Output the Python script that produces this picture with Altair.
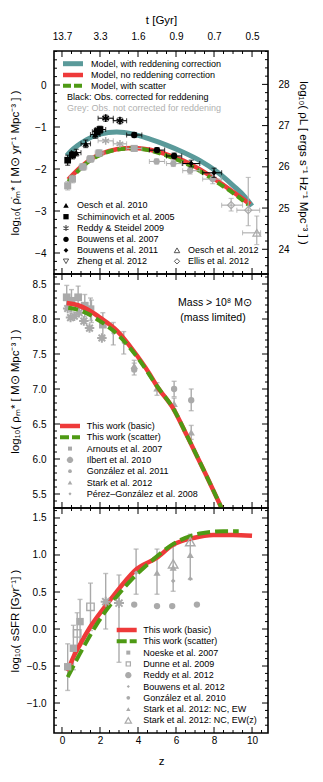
import altair as alt
import pandas as pd

FONT = "Liberation Sans"
GREY = "#aaaaaa"
TEAL = "#5a9a9a"
RED = "#ee3a3a"
GREEN = "#4e9a14"

# ---------------- axis labels ----------------
z_label_values = [0, 2, 4, 6, 8, 10]
t_gyr_labels = ["13.7", "3.3", "1.6", "0.9", "0.7", "0.5"]
p1_left_labels = [-4, -3, -2, -1, 0]
p1_right_labels = [24, 25, 26, 27, 28]
p2_labels = [5.5, 6.0, 6.5, 7.0, 7.5, 8.0, 8.5]
p3_labels = [-1.0, -0.5, 0.0, 0.5, 1.0, 1.5]

# ---------------- panel 1: SFR density ----------------
p1_teal_z = [0.25, 0.5, 0.77, 1.3, 2.0, 2.88, 3.75, 4.63, 5.5, 6.38, 7.26, 8.14, 9.02, 9.6, 10.0]
p1_teal_v = [-1.68, -1.56, -1.46, -1.30, -1.17, -1.12, -1.17, -1.29, -1.43, -1.60, -1.80, -2.06, -2.40, -2.65, -2.88]
p1_red_z = [0.33, 0.95, 1.47, 2.0, 2.88, 3.75, 4.63, 5.5, 6.38, 7.26, 8.14, 9.02, 9.9]
p1_red_v = [-2.25, -1.97, -1.78, -1.65, -1.53, -1.50, -1.54, -1.65, -1.80, -2.01, -2.27, -2.55, -2.84]
p1_green_z = [0.33, 0.95, 1.47, 2.0, 2.88, 3.75, 4.63, 5.5, 6.38, 7.26, 8.14, 9.02, 9.8]
p1_green_v = [-2.30, -2.00, -1.80, -1.67, -1.54, -1.51, -1.56, -1.68, -1.84, -2.05, -2.31, -2.58, -2.85]

# black: corrected for reddening
oesch10_z = [0.75, 1.25, 1.75]
oesch10_v = [-1.61, -1.40, -1.18]
oesch10_vlo = [-1.69, -1.49, -1.27]
oesch10_vhi = [-1.53, -1.31, -1.09]
oesch10_zlo = [0.5, 1.0, 1.5]
oesch10_zhi = [1.0, 1.5, 2.0]

schim_z = [0.3, 0.55, 1.85, 2.0]
schim_v = [-1.79, -1.67, -1.11, -1.06]
schim_vlo = [-1.91, -1.76, -1.19, -1.14]
schim_vhi = [-1.67, -1.58, -1.03, -0.98]
schim_zlo = [0.2, 0.4, 1.6, 1.75]
schim_zhi = [0.4, 0.7, 2.1, 2.3]

reddy09_z = [2.3, 3.05]
reddy09_v = [-0.79, -0.85]
reddy09_vlo = [-0.86, -0.92]
reddy09_vhi = [-0.72, -0.78]
reddy09_zlo = [1.9, 2.7]
reddy09_zhi = [2.7, 3.4]

bouw07_z = [3.8, 5.0, 5.9]
bouw07_v = [-1.19, -1.55, -1.69]
bouw07_vlo = [-1.25, -1.61, -1.76]
bouw07_vhi = [-1.13, -1.49, -1.62]
bouw07_zlo = [3.4, 4.6, 5.5]
bouw07_zhi = [4.2, 5.4, 6.3]

bouw11_z = [6.8, 8.0]
bouw11_v = [-1.87, -2.09]
bouw11_vlo = [-1.95, -2.20]
bouw11_vhi = [-1.79, -1.98]
bouw11_zlo = [6.35, 7.4]
bouw11_zhi = [7.25, 8.4]

# grey: not corrected for reddening
g_sq_z = [0.3, 0.55, 1.1, 1.5, 1.95, 3.8]
g_sq_v = [-2.40, -2.24, -1.95, -1.76, -1.62, -1.51]
g_sq_vlo = [-2.50, -2.33, -2.03, -1.84, -1.70, -1.57]
g_sq_vhi = [-2.30, -2.15, -1.87, -1.68, -1.54, -1.45]
g_sq_zlo = [0.2, 0.4, 0.9, 1.3, 1.75, 3.4]
g_sq_zhi = [0.4, 0.7, 1.3, 1.7, 2.2, 4.2]

g_ast_z = [2.3, 3.05]
g_ast_v = [-1.33, -1.40]
g_ast_zlo = [1.9, 2.7]
g_ast_zhi = [2.7, 3.4]

g_circ_z = [4.98, 5.86, 6.74, 7.93]
g_circ_v = [-1.82, -1.87, -2.04, -2.24]
g_circ_vlo = [-1.88, -1.94, -2.12, -2.35]
g_circ_vhi = [-1.76, -1.80, -1.96, -2.13]
g_circ_zlo = [4.6, 5.5, 6.35, 7.4]
g_circ_zhi = [5.4, 6.3, 7.25, 8.4]

ellis_z = [8.9, 9.8]
ellis_v = [-2.86, -2.98]
ellis_vlo = [-3.00, -3.35]
ellis_vhi = [-2.70, -2.20]
ellis_zlo = [8.4, 9.2]
ellis_zhi = [9.5, 10.4]

oesch12_z = [10.25]
oesch12_v = [-3.52]
oesch12_vlo = [-3.80]
oesch12_vhi = [-3.12]
oesch12_zlo = [9.5]
oesch12_zhi = [10.45]

# ---------------- panel 2: stellar mass density ----------------
p2_red_z = [0.25, 0.8, 1.5, 2.0, 2.9, 3.75, 4.6, 5.0, 5.9, 6.6, 7.6, 8.5]
p2_red_v = [8.23, 8.20, 8.11, 8.02, 7.83, 7.55, 7.22, 7.04, 6.70, 6.32, 5.76, 5.24]
p2_green_z = [0.33, 1.0, 2.0, 3.0, 4.0, 5.0, 5.9, 6.6, 7.6, 8.5]
p2_green_v = [8.16, 8.12, 7.97, 7.76, 7.44, 7.04, 6.70, 6.32, 5.76, 5.24]

arnouts_z = [0.25, 0.5, 0.85, 1.2, 1.5, 2.15]
arnouts_v = [8.31, 8.26, 8.31, 8.19, 8.14, 7.92]
arnouts_lo = [8.14, 8.10, 8.15, 8.03, 7.98, 7.75]
arnouts_hi = [8.48, 8.42, 8.47, 8.35, 8.30, 8.09]

ilbert_z = [0.3, 0.45, 0.65, 0.9, 1.15, 1.45, 2.1]
ilbert_v = [8.15, 8.02, 8.04, 8.09, 7.97, 7.87, 7.73]

gonz11_z = [3.8, 5.9, 6.8]
gonz11_v = [7.28, 7.00, 6.84]
gonz11_lo = [7.20, 6.89, 6.69]
gonz11_hi = [7.37, 7.11, 7.00]

stark12_z = [3.8, 5.0, 5.9, 6.8]
stark12_v = [7.33, 7.01, 6.79, 6.38]
stark12_lo = [7.25, 6.91, 6.71, 6.28]
stark12_hi = [7.41, 7.09, 6.87, 6.48]

perez08_z = [1.55, 2.7, 3.25]
perez08_v = [8.10, 7.80, 7.66]
perez08_lo = [7.95, 7.63, 7.50]
perez08_hi = [8.27, 7.95, 7.82]

# ---------------- panel 3: specific SFR ----------------
p3_red_z = [0.3, 0.6, 0.95, 1.47, 2.35, 3.05, 3.93, 4.98, 5.86, 6.91, 7.96, 9.0, 10.0]
p3_red_v = [-0.57, -0.38, -0.21, 0.02, 0.33, 0.56, 0.81, 0.96, 1.14, 1.23, 1.27, 1.27, 1.26]
p3_green_z = [0.3, 0.6, 1.12, 1.82, 2.7, 3.75, 4.8, 5.86, 7.26, 8.5, 9.3]
p3_green_v = [-0.65, -0.50, -0.25, 0.06, 0.38, 0.69, 0.94, 1.15, 1.29, 1.32, 1.32]

noeske_z = [0.3, 0.6, 0.95]
noeske_v = [-0.51, -0.26, 0.10]
noeske_lo = [-0.83, -0.55, -0.20]
noeske_hi = [-0.20, 0.05, 0.40]

dunne_z = [0.8, 1.5]
dunne_v = [-0.06, 0.30]
dunne_lo = [-0.30, -0.02]
dunne_hi = [0.22, 0.62]

reddy12_z = [2.3, 3.0]
reddy12_v = [0.37, 0.35]
reddy12_lo = [0.00, -0.45]
reddy12_hi = [0.75, 0.73]

bouw12_z = [3.9, 5.85, 6.75]
bouw12_v = [0.76, 0.65, 0.68]
bouw12_bar_z = [3.9]
bouw12_lo = [0.47]
bouw12_hi = [1.08]

gonz10_z = [3.8, 5.0, 5.8, 7.1]
gonz10_v = [0.33, 0.31, 0.31, 0.33]

starkEW_z = [5.0, 5.85, 6.75]
starkEW_v = [0.76, 0.83, 1.00]
starkEW_lo = [0.47, 0.51, 0.67]
starkEW_hi = [1.08, 1.12, 1.28]

starkEWz_z = [5.85, 6.75]
starkEWz_v = [0.88, 1.18]

# ---------------- geometry / scales ----------------
W = 214
H1, H2, H3 = 223, 234, 225
XS = alt.Scale(domain=[-0.42, 10.84], nice=False, zero=False)
YS1 = alt.Scale(domain=[-4.5, 0.81], nice=False, zero=False)
YS1R = alt.Scale(domain=[23.4, 28.81], nice=False, zero=False)
YS2 = alt.Scale(domain=[5.3, 8.643], nice=False, zero=False)
YS3 = alt.Scale(domain=[-1.405, 1.635], nice=False, zero=False)

ASTER = "M0,-1L0,1M-0.87,-0.5L0.87,0.5M-0.87,0.5L0.87,-0.5"
STAR8 = "M0,-1L0,1M-1,0L1,0M-0.7,-0.7L0.7,0.7M-0.7,0.7L0.7,-0.7"

base_axis = dict(ticks=False, tickSize=0, domain=False, grid=False)
label_expr = "".join(f"datum.value == {v} ? '{l}' : " for v, l in zip(z_label_values, t_gyr_labels)) + "''"

# current panel axes (every layer of a panel carries the same axis spec)
AX = {"x": None, "y": None}


def X(field):
    return alt.X(f"{field}:Q", scale=XS, axis=AX["x"])


def Y(field, ys):
    return alt.Y(f"{field}:Q", scale=ys, axis=AX["y"])


def curve(z, v, ys, color, sw, dash=None):
    kw = dict(color=color, strokeWidth=sw, interpolate="monotone", clip=True)
    if dash:
        kw["strokeDash"] = dash
    return alt.Chart(pd.DataFrame({"z": z, "v": v})).mark_line(**kw).encode(x=X("z"), y=Y("v", ys))


def points(z, v, ys, shape, size, color, filled=True, sw=1.0):
    return alt.Chart(pd.DataFrame({"z": z, "v": v})).mark_point(
        shape=shape, size=size, filled=filled, color=color, strokeWidth=sw,
        opacity=1, clip=True).encode(x=X("z"), y=Y("v", ys))


def vbars(z, lo, hi, ys, color, cap=5, sw=1.1):
    base = alt.Chart(pd.DataFrame({"z": z, "lo": lo, "hi": hi}))
    return [
        base.mark_rule(color=color, strokeWidth=sw, clip=True).encode(x=X("z"), y=Y("lo", ys), y2="hi:Q"),
        base.mark_tick(orient="horizontal", color=color, size=cap, thickness=sw, clip=True).encode(
            x=X("z"), y=Y("lo", ys)),
        base.mark_tick(orient="horizontal", color=color, size=cap, thickness=sw, clip=True).encode(
            x=X("z"), y=Y("hi", ys)),
    ]


def hbars(zlo, zhi, v, ys, color, cap=5, sw=1.1):
    base = alt.Chart(pd.DataFrame({"zlo": zlo, "zhi": zhi, "v": v}))
    return [
        base.mark_rule(color=color, strokeWidth=sw, clip=True).encode(x=X("zlo"), x2="zhi:Q", y=Y("v", ys)),
        base.mark_tick(orient="vertical", color=color, size=cap, thickness=sw, clip=True).encode(
            x=X("zlo"), y=Y("v", ys)),
        base.mark_tick(orient="vertical", color=color, size=cap, thickness=sw, clip=True).encode(
            x=X("zhi"), y=Y("v", ys)),
    ]


def yticks(vals, ys, length, right=False):
    if right:
        xe = dict(x=alt.value(W), x2=alt.value(W - length))
    else:
        xe = dict(x=alt.value(0), x2=alt.value(length))
    return alt.Chart(pd.DataFrame({"v": vals})).mark_rule(color="black", strokeWidth=1).encode(
        y=Y("v", ys), **xe)


def xticks(vals, H, length, bottom=False):
    if bottom:
        ye = dict(y=alt.value(H), y2=alt.value(H - length))
    else:
        ye = dict(y=alt.value(0), y2=alt.value(length))
    return alt.Chart(pd.DataFrame({"z": vals})).mark_rule(color="black", strokeWidth=1).encode(
        x=X("z"), **ye)


def txt(s, x, y, size=9, color="black", align="left"):
    return alt.Chart(pd.DataFrame({"t": [s]})).mark_text(
        align=align, baseline="middle", fontSize=size, font=FONT, color=color).encode(
        x=alt.value(x), y=alt.value(y), text="t:N")


def sym(x, y, shape, size, color, filled=True, sw=1.0):
    return alt.Chart(pd.DataFrame({"a": [0]})).mark_point(
        shape=shape, size=size, filled=filled, color=color, strokeWidth=sw, opacity=1).encode(
        x=alt.value(x), y=alt.value(y))


def legline(x1, x2, y, color, sw=4, dash=None):
    kw = dict(color=color, strokeWidth=sw)
    if dash:
        kw["strokeDash"] = dash
    return alt.Chart(pd.DataFrame({"a": [0]})).mark_rule(**kw).encode(
        x=alt.value(x1), x2=alt.value(x2), y=alt.value(y))


def steps(a, b, step, skip):
    out = []
    n = int(round((b - a) / step))
    for i in range(n + 1):
        v = round(a + i * step, 3)
        if all(abs(v - s) > 1e-6 for s in skip):
            out.append(v)
    return out


x_minor = steps(0.0, 10.5, 0.5, z_label_values)

# ================= panel 1 =================
AX["x"] = alt.Axis(orient="top", values=z_label_values, labelExpr=label_expr, title="t  [Gyr]",
                   labelPadding=10, titlePadding=6, **base_axis)
AX["y"] = alt.Axis(values=p1_left_labels, format="d", title="log₁₀( ρ̇ₘ* [ M⊙ yr⁻¹ Mpc⁻³ ] )",
                   titleX=-34, labelPadding=8, **base_axis)

p1_layers = [
    yticks(p1_left_labels, YS1, 6),
    yticks(steps(-4.4, 0.8, 0.2, p1_left_labels), YS1, 3),
    xticks(z_label_values, H1, 6),
    xticks(x_minor, H1, 3),
    xticks(z_label_values, H1, 6, bottom=True),
    xticks(x_minor, H1, 3, bottom=True),
    curve(p1_teal_z, p1_teal_v, YS1, TEAL, 5),
    curve(p1_red_z, p1_red_v, YS1, RED, 4.5),
    curve(p1_green_z, p1_green_v, YS1, GREEN, 4, dash=[8, 4]),
]
p1_layers += vbars(g_sq_z, g_sq_vlo, g_sq_vhi, YS1, GREY)
p1_layers += hbars(g_sq_zlo, g_sq_zhi, g_sq_v, YS1, GREY)
p1_layers += hbars(g_ast_zlo, g_ast_zhi, g_ast_v, YS1, GREY)
p1_layers += vbars(g_circ_z, g_circ_vlo, g_circ_vhi, YS1, GREY)
p1_layers += hbars(g_circ_zlo, g_circ_zhi, g_circ_v, YS1, GREY)
p1_layers += vbars(ellis_z, ellis_vlo, ellis_vhi, YS1, GREY)
p1_layers += hbars(ellis_zlo, ellis_zhi, ellis_v, YS1, GREY)
p1_layers += vbars(oesch12_z, oesch12_vlo, oesch12_vhi, YS1, GREY)
p1_layers += hbars(oesch12_zlo, oesch12_zhi, oesch12_v, YS1, GREY)
p1_layers += [
    points(g_sq_z, g_sq_v, YS1, "square", 50, GREY),
    points(g_ast_z, g_ast_v, YS1, ASTER, 60, GREY, filled=False, sw=1.5),
    points(g_circ_z, g_circ_v, YS1, "circle", 40, GREY),
    points(ellis_z, ellis_v, YS1, "diamond", 50, GREY, filled=False, sw=1.2),
    points(oesch12_z, oesch12_v, YS1, "triangle-up", 60, GREY, filled=False, sw=1.2),
]
for zz, vv, lo, hi, zl, zh in [
    (oesch10_z, oesch10_v, oesch10_vlo, oesch10_vhi, oesch10_zlo, oesch10_zhi),
    (schim_z, schim_v, schim_vlo, schim_vhi, schim_zlo, schim_zhi),
    (reddy09_z, reddy09_v, reddy09_vlo, reddy09_vhi, reddy09_zlo, reddy09_zhi),
    (bouw07_z, bouw07_v, bouw07_vlo, bouw07_vhi, bouw07_zlo, bouw07_zhi),
    (bouw11_z, bouw11_v, bouw11_vlo, bouw11_vhi, bouw11_zlo, bouw11_zhi),
]:
    p1_layers += vbars(zz, lo, hi, YS1, "black")
    p1_layers += hbars(zl, zh, vv, YS1, "black")
p1_layers += [
    points(oesch10_z, oesch10_v, YS1, "triangle-up", 45, "black"),
    points(schim_z, schim_v, YS1, "square", 45, "black"),
    points(reddy09_z, reddy09_v, YS1, ASTER, 60, "black", filled=False, sw=1.5),
    points(bouw07_z, bouw07_v, YS1, "circle", 40, "black"),
    points(bouw11_z, bouw11_v, YS1, "diamond", 30, "black"),
]
p1_layers += [
    legline(9, 29, 12.7, TEAL, sw=5), txt("Model, with reddening correction", 37, 12.7),
    legline(9, 29, 24, RED, sw=4.5), txt("Model, no reddening correction", 37, 24),
    legline(9, 29, 34.7, GREEN, sw=4, dash=[8, 3]), txt("Model, with scatter", 37, 34.7),
    txt("Black: Obs. corrected for reddening", 13, 45.7),
    txt("Grey: Obs. not corrected for reddening", 13, 56.7, color="#b0b0b0"),
]
leg1 = [
    ("Oesch et al. 2010", "triangle-up", 30, True, "black", 1.0),
    ("Schiminovich et al. 2005", "square", 28, True, "black", 1.0),
    ("Reddy & Steidel 2009", ASTER, 36, False, "#555555", 1.2),
    ("Bouwens et al. 2007", "circle", 28, True, "black", 1.0),
    ("Bouwens et al. 2011", "diamond", 22, True, "black", 1.0),
    ("Zheng et al. 2012", "triangle-down", 28, False, "#444444", 0.9),
]
rows1 = [154.3, 165.7, 177.0, 188.3, 199.3, 210.3]
for (lab, shp, sz, fl, col, sw), yy in zip(leg1, rows1):
    p1_layers += [sym(12, yy, shp, sz, col, filled=fl, sw=sw), txt(lab, 23, yy)]
leg1b = [
    ("Oesch et al. 2012", "triangle-up", 30, False, "#444444", 0.9),
    ("Ellis et al. 2012", "diamond", 28, False, "#444444", 0.9),
]
for (lab, shp, sz, fl, col, sw), yy in zip(leg1b, rows1[4:]):
    p1_layers += [sym(123, yy, shp, sz, col, filled=fl, sw=sw), txt(lab, 134, yy)]
main1 = alt.layer(*p1_layers)

AX["y"] = alt.Axis(orient="right", values=p1_right_labels, format="d",
                   title="log₁₀( ρL [ ergs s⁻¹ Hz⁻¹ Mpc⁻³ ] )", labelPadding=10, titlePadding=8, **base_axis)
right1 = alt.layer(
    yticks(p1_right_labels, YS1R, 6, right=True),
    yticks(steps(23.6, 28.8, 0.2, p1_right_labels), YS1R, 3, right=True),
)
panel1 = alt.layer(main1, right1).resolve_scale(y="independent").properties(width=W, height=H1)

# ================= panel 2 =================
AX["x"] = None
AX["y"] = alt.Axis(values=p2_labels, format=".1f", title="log₁₀( ρₘ* [ M⊙ Mpc⁻³ ] )",
                   titleX=-34, labelPadding=8, **base_axis)
p2_layers = [
    yticks(p2_labels, YS2, 6),
    yticks(steps(5.4, 8.6, 0.1, p2_labels), YS2, 3),
    yticks(p2_labels, YS2, 6, right=True),
    yticks(steps(5.4, 8.6, 0.1, p2_labels), YS2, 3, right=True),
    xticks(z_label_values, H2, 6),
    xticks(x_minor, H2, 3),
    xticks(z_label_values, H2, 6, bottom=True),
    xticks(x_minor, H2, 3, bottom=True),
]
p2_layers += vbars(arnouts_z, arnouts_lo, arnouts_hi, YS2, GREY, sw=1.4)
p2_layers += vbars(gonz11_z, gonz11_lo, gonz11_hi, YS2, GREY, sw=1.4)
p2_layers += vbars(stark12_z, stark12_lo, stark12_hi, YS2, GREY, sw=1.4)
p2_layers += vbars(perez08_z, perez08_lo, perez08_hi, YS2, GREY, sw=1.4)
p2_layers += [
    points(ilbert_z, ilbert_v, YS2, STAR8, 90, GREY, filled=False, sw=2),
    points(arnouts_z, arnouts_v, YS2, "square", 60, GREY),
    points(gonz11_z, gonz11_v, YS2, "circle", 40, GREY),
    points(stark12_z, stark12_v, YS2, "triangle-up", 55, GREY),
    points(perez08_z, perez08_v, YS2, "diamond", 20, GREY),
    curve(p2_red_z, p2_red_v, YS2, RED, 4.5),
    curve(p2_green_z, p2_green_v, YS2, GREEN, 4, dash=[10, 5]),
]
rows2 = [152.0, 163.3, 174.6, 185.9, 197.2, 208.5, 219.8]
p2_layers += [
    legline(6, 26, rows2[0], RED, sw=4.5), txt("This work (basic)", 32.7, rows2[0]),
    legline(6, 26, rows2[1], GREEN, sw=4, dash=[9, 3]), txt("This work (scatter)", 32.7, rows2[1]),
]
leg2 = [
    ("Arnouts et al. 2007", "square", 16, True, GREY, 1.0),
    ("Ilbert et al. 2010", STAR8, 40, False, GREY, 2.0),
    ("González et al. 2011", "circle", 14, True, GREY, 1.0),
    ("Stark et al. 2012", "triangle-up", 22, True, GREY, 1.0),
    ("Pérez–González et al. 2008", "diamond", 10, True, GREY, 1.0),
]
for (lab, shp, sz, fl, col, sw), yy in zip(leg2, rows2[2:]):
    p2_layers += [sym(16, yy, shp, sz, col, filled=fl, sw=sw), txt(lab, 32.7, yy)]
p2_layers += [
    txt("Mass > 10⁸ M⊙", 161, 28.7, size=10.5, align="center"),
    txt("(mass limited)", 159, 43.7, size=10.5, align="center"),
]
panel2 = alt.layer(*p2_layers).properties(width=W, height=H2)

# ================= panel 3 =================
AX["x"] = alt.Axis(orient="bottom", values=z_label_values, format="d", title="z",
                   labelPadding=2, titlePadding=10, **base_axis)
AX["y"] = alt.Axis(values=p3_labels, format=".1f", title="log₁₀( sSFR [Gyr⁻¹] )",
                   titleX=-34, labelPadding=8, **base_axis)
p3_layers = [
    yticks(p3_labels, YS3, 6),
    yticks(steps(-1.3, 1.6, 0.1, p3_labels), YS3, 3),
    yticks(p3_labels, YS3, 6, right=True),
    yticks(steps(-1.3, 1.6, 0.1, p3_labels), YS3, 3, right=True),
    xticks(z_label_values, H3, 6),
    xticks(x_minor, H3, 3),
    xticks(z_label_values, H3, 6, bottom=True),
    xticks(x_minor, H3, 3, bottom=True),
]
p3_layers += vbars(noeske_z, noeske_lo, noeske_hi, YS3, GREY, sw=1.4)
p3_layers += vbars(dunne_z, dunne_lo, dunne_hi, YS3, GREY, sw=1.4)
p3_layers += vbars(reddy12_z, reddy12_lo, reddy12_hi, YS3, GREY, sw=1.4)
p3_layers += vbars(bouw12_bar_z, bouw12_lo, bouw12_hi, YS3, GREY, sw=1.4)
p3_layers += vbars(starkEW_z, starkEW_lo, starkEW_hi, YS3, GREY, sw=1.4)
p3_layers += [
    curve(p3_red_z, p3_red_v, YS3, RED, 4.5),
    curve(p3_green_z, p3_green_v, YS3, GREEN, 4, dash=[13, 5]),
    points(noeske_z, noeske_v, YS3, "square", 55, GREY),
    points(dunne_z, dunne_v, YS3, "square", 55, GREY, filled=False, sw=1.4),
    points(reddy12_z, reddy12_v, YS3, STAR8, 100, GREY, filled=False, sw=2),
    points(bouw12_z, bouw12_v, YS3, "diamond", 22, GREY),
    points(gonz10_z, gonz10_v, YS3, "circle", 40, GREY),
    points(starkEW_z, starkEW_v, YS3, "triangle-up", 50, GREY),
    points(starkEWz_z, starkEWz_v, YS3, "triangle-up", 90, GREY, filled=False, sw=1.4),
]
rows3 = [122.0, 133.3, 144.6, 155.9, 167.2, 178.5, 189.8, 201.1, 212.4]
p3_layers += [
    legline(62.7, 82.7, rows3[0], RED, sw=4.5), txt("This work (basic)", 89.3, rows3[0]),
    legline(62.7, 82.7, rows3[1], GREEN, sw=4, dash=[10, 3]), txt("This work (scatter)", 89.3, rows3[1]),
]
leg3 = [
    ("Noeske et al. 2007", "square", 16, True, GREY, 1.0),
    ("Dunne et al. 2009", "square", 18, False, GREY, 1.2),
    ("Reddy et al. 2012", STAR8, 40, False, GREY, 2.0),
    ("Bouwens et al. 2012", "diamond", 10, True, GREY, 1.0),
    ("González et al. 2010", "circle", 14, True, GREY, 1.0),
    ("Stark et al. 2012: NC, EW", "triangle-up", 20, True, GREY, 1.0),
    ("Stark et al. 2012: NC, EW(z)", "triangle-up", 40, False, GREY, 1.2),
]
for (lab, shp, sz, fl, col, sw), yy in zip(leg3, rows3[2:]):
    p3_layers += [sym(74.3, yy, shp, sz, col, filled=fl, sw=sw), txt(lab, 89.3, yy)]
panel3 = alt.layer(*p3_layers).properties(width=W, height=H3)

chart = alt.vconcat(panel1, panel2, panel3, spacing=0, bounds="flush").properties(
    padding={"left": 0, "top": 5, "right": 0, "bottom": 0}
).configure_view(stroke="black", strokeWidth=1.6).configure_axis(
    labelFont=FONT, titleFont=FONT, labelFontSize=10, titleFontSize=11.5,
    titleFontWeight="normal", labelColor="black", titleColor="black"
)

chart.save("out.html", embed_options={"renderer": "svg", "actions": False})
